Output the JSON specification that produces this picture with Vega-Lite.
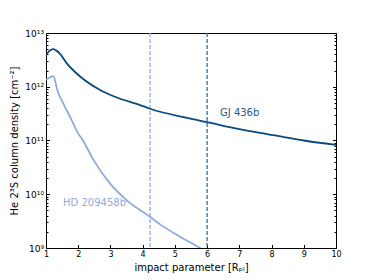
{
  "$schema": "https://vega.github.io/schema/vega-lite/v6.json",
  "width": 290,
  "height": 215,
  "autosize": "none",
  "padding": {"left": 46, "top": 33, "right": 38, "bottom": 32},
  "config": {
    "font": "DejaVu Sans",
    "view": {"stroke": "#000000", "strokeWidth": 1},
    "axis": {
      "domainColor": "#000000",
      "tickColor": "#000000",
      "labelColor": "#000000",
      "titleColor": "#000000",
      "grid": false,
      "labelFont": "DejaVu Sans",
      "titleFont": "DejaVu Sans",
      "labelFontSize": 8,
      "titleFontSize": 10,
      "titleFontWeight": "normal",
      "labelFlush": false
    }
  },
  "resolve": {"scale": {"color": "independent"}},
  "datasets": {
    "curves": [
      {"planet": "GJ 436b", "b": 1.0, "N": 3.9e12},
      {"planet": "GJ 436b", "b": 1.1, "N": 4.6e12},
      {"planet": "GJ 436b", "b": 1.22, "N": 5.0e12},
      {"planet": "GJ 436b", "b": 1.32, "N": 4.7e12},
      {"planet": "GJ 436b", "b": 1.43, "N": 4.15e12},
      {"planet": "GJ 436b", "b": 1.64, "N": 2.75e12},
      {"planet": "GJ 436b", "b": 2.06, "N": 1.55e12},
      {"planet": "GJ 436b", "b": 2.68, "N": 8.7e11},
      {"planet": "GJ 436b", "b": 3.2, "N": 6.3e11},
      {"planet": "GJ 436b", "b": 3.92, "N": 4.57e11},
      {"planet": "GJ 436b", "b": 4.23, "N": 3.9e11},
      {"planet": "GJ 436b", "b": 5.38, "N": 2.63e11},
      {"planet": "GJ 436b", "b": 6.0, "N": 2.19e11},
      {"planet": "GJ 436b", "b": 7.0, "N": 1.62e11},
      {"planet": "GJ 436b", "b": 8.05, "N": 1.26e11},
      {"planet": "GJ 436b", "b": 9.0, "N": 1.0e11},
      {"planet": "GJ 436b", "b": 10.0, "N": 8.3e10},
      {"planet": "HD 209458b", "b": 1.0, "N": 1.35e12},
      {"planet": "HD 209458b", "b": 1.1, "N": 1.47e12},
      {"planet": "HD 209458b", "b": 1.23, "N": 1.58e12},
      {"planet": "HD 209458b", "b": 1.35, "N": 8.7e11},
      {"planet": "HD 209458b", "b": 1.56, "N": 4.57e11},
      {"planet": "HD 209458b", "b": 1.77, "N": 2.57e11},
      {"planet": "HD 209458b", "b": 1.97, "N": 1.45e11},
      {"planet": "HD 209458b", "b": 2.18, "N": 9.3e10},
      {"planet": "HD 209458b", "b": 2.45, "N": 4.6e10},
      {"planet": "HD 209458b", "b": 2.99, "N": 1.58e10},
      {"planet": "HD 209458b", "b": 3.5, "N": 7.8e9},
      {"planet": "HD 209458b", "b": 4.23, "N": 3.8e9},
      {"planet": "HD 209458b", "b": 4.54, "N": 2.75e9},
      {"planet": "HD 209458b", "b": 5.16, "N": 1.62e9},
      {"planet": "HD 209458b", "b": 5.78, "N": 1.0e9},
      {"planet": "HD 209458b", "b": 6.0, "N": 8.3e8}
    ],
    "rules": [
      {"planet": "HD 209458b", "b": 4.23},
      {"planet": "GJ 436b", "b": 6.0}
    ],
    "labels": [
      {"planet": "GJ 436b", "b": 6.4, "N": 3.2e11},
      {"planet": "HD 209458b", "b": 1.53, "N": 6.9e9}
    ]
  },
  "encoding": {
    "x": {
      "field": "b", "type": "quantitative",
      "scale": {"domain": [1, 10], "nice": false, "zero": false},
      "axis": {
        "title": "impact parameter [Rₚₗ]",
        "values": [1, 2, 3, 4, 5, 6, 7, 8, 9, 10],
        "labelOverlap": false,
        "labelFlush": false,
        "labelBound": false,
        "labelSeparation": 0,
        "format": "d",
        "tickSize": -3.5,
        "labelPadding": 6,
        "titlePadding": 4
      }
    }
  },
  "layer": [
    {
      "data": {"name": "rules"},
      "mark": {"type": "rule", "strokeDash": [4, 2], "strokeWidth": 1.3},
      "encoding": {
        "color": {
          "field": "planet", "type": "nominal", "legend": null,
          "scale": {"domain": ["GJ 436b", "HD 209458b"], "range": ["#2f6e9e", "#8eaae2"]}
        }
      }
    },
    {
      "data": {"name": "curves"},
      "mark": {"type": "line", "strokeWidth": 1.8, "clip": true, "interpolate": "monotone"},
      "encoding": {
        "y": {
          "field": "N", "type": "quantitative",
          "scale": {"type": "log", "domain": [1e9, 1e13], "nice": false},
          "axis": {
            "title": "He 2³S column density [cm⁻²]",
            "orient": "left",
            "values": [1e9, 2e9, 3e9, 4e9, 5e9, 6e9, 7e9, 8e9, 9e9, 1e10, 2e10, 3e10, 4e10, 5e10, 6e10, 7e10, 8e10, 9e10, 1e11, 2e11, 3e11, 4e11, 5e11, 6e11, 7e11, 8e11, 9e11, 1e12, 2e12, 3e12, 4e12, 5e12, 6e12, 7e12, 8e12, 9e12, 1e13],
            "labelExpr": "datum.value == 1e9 ? '10⁹' : datum.value == 1e10 ? '10¹⁰' : datum.value == 1e11 ? '10¹¹' : datum.value == 1e12 ? '10¹²' : datum.value == 1e13 ? '10¹³' : ''",
            "labelFontSize": 9,
            "labelOverlap": false,
            "tickSize": {"condition": {"test": "abs(log(datum.value)/LN10 - round(log(datum.value)/LN10)) < 0.001", "value": -3.5}, "value": -2},
            "labelPadding": 6,
            "titlePadding": 5
          }
        },
        "color": {"field": "planet", "type": "nominal", "legend": null,
          "scale": {"domain": ["GJ 436b", "HD 209458b"], "range": ["#0b4a7c", "#8eaadf"]}}
      }
    },
    {
      "data": {"name": "labels"},
      "mark": {"type": "text", "align": "left", "baseline": "middle", "fontSize": 10, "font": "DejaVu Sans"},
      "encoding": {
        "y": {
          "field": "N", "type": "quantitative",
          "axis": {
            "orient": "right",
            "title": null,
            "labels": false,
            "values": [1e9, 2e9, 3e9, 4e9, 5e9, 6e9, 7e9, 8e9, 9e9, 1e10, 2e10, 3e10, 4e10, 5e10, 6e10, 7e10, 8e10, 9e10, 1e11, 2e11, 3e11, 4e11, 5e11, 6e11, 7e11, 8e11, 9e11, 1e12, 2e12, 3e12, 4e12, 5e12, 6e12, 7e12, 8e12, 9e12, 1e13],
            "tickSize": {"condition": {"test": "abs(log(datum.value)/LN10 - round(log(datum.value)/LN10)) < 0.001", "value": -3.5}, "value": -2}
          }
        },
        "text": {"field": "planet"},
        "color": {"field": "planet", "type": "nominal", "legend": null,
          "scale": {"domain": ["GJ 436b", "HD 209458b"], "range": ["#1d5b8b", "#8eaadf"]}}
      }
    }
  ]
}
